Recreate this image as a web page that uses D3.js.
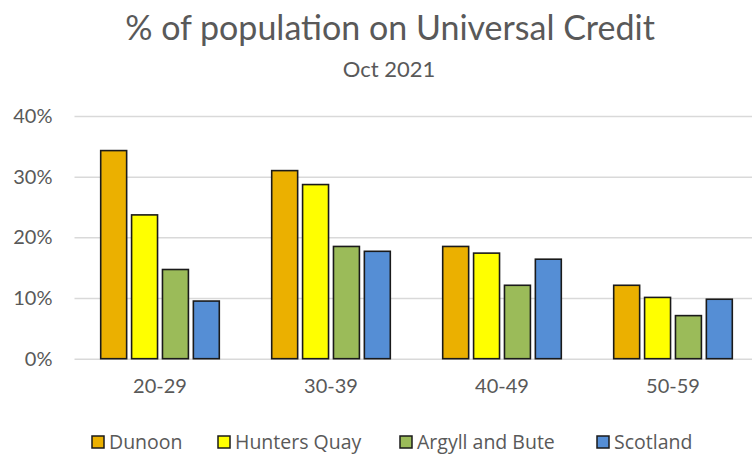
<!DOCTYPE html>
<html><head><meta charset="utf-8">
<script src="https://cdn.jsdelivr.net/npm/d3@7"></script>
<style>
html,body{margin:0;padding:0;background:#fff;}
svg{display:block;}
</style>
</head><body>
<svg id="chart" width="752" height="455"></svg>
<script>
const categories = ["20-29", "30-39", "40-49", "50-59"];
const seriesNames = ["Dunoon", "Hunters Quay", "Argyll and Bute", "Scotland"];
const dunoon = [0.343, 0.310, 0.185, 0.121];
const huntersQuay = [0.237, 0.287, 0.174, 0.101];
const argyllBute = [0.147, 0.185, 0.121, 0.071];
const scotland = [0.095, 0.177, 0.164, 0.098];
const yTicks = [0, 0.1, 0.2, 0.3, 0.4];
const colors = ["#EBB000", "#FFFF00", "#9BBB59", "#558ED5"];

(function () {
const seriesValues = [dunoon, huntersQuay, argyllBute, scotland];
const svg = d3.select("#chart");
const pLeft = 74.5, pRight = 758.5, pTop = 116, pBottom = 358.7;

const x = d3.scaleBand().domain(categories).range([pLeft, pRight]).paddingInner(0).paddingOuter(0);
const y = d3.scaleLinear().domain([0, 0.4]).range([pBottom, pTop]);
const groupW = 118.6;
const xs = d3.scaleBand().domain(seriesNames).range([0, groupW]).paddingInner(0.16).paddingOuter(0);

// Title
svg.append("text").attr("x", 390).attr("y", 40).attr("text-anchor", "middle")
  .attr("font-family", "Lato, sans-serif").attr("font-size", 34).attr("fill", "#595959")
  .text("% of population on Universal Credit");
svg.append("text").attr("x", 389).attr("y", 77).attr("text-anchor", "middle")
  .attr("font-family", "Lato, sans-serif").attr("font-size", 22).attr("fill", "#595959")
  .text("Oct 2021");

// Gridlines
const yAxis = d3.axisLeft(y).tickValues(yTicks).tickFormat(d3.format(".0%")).tickSize(-(pRight - pLeft)).tickPadding(22);
const gy = svg.append("g").attr("transform", `translate(${pLeft},0)`).call(yAxis);
gy.select(".domain").remove();
gy.selectAll(".tick line").attr("stroke", "#d9d9d9").attr("stroke-width", 1.5);
gy.selectAll(".tick text").attr("font-family", "Lato, sans-serif").attr("font-size", 20).attr("fill", "#595959");

// Bars
const groups = svg.append("g").selectAll("g").data(categories).join("g")
  .attr("transform", d => `translate(${x(d) + (x.bandwidth() - groupW) / 2},0)`);
groups.selectAll("rect").data((c, i) => seriesNames.map((s, j) => ({s, j, v: seriesValues[j][i]})))
  .join("rect")
  .attr("x", d => xs(d.s))
  .attr("width", xs.bandwidth())
  .attr("y", d => y(d.v))
  .attr("height", d => y(0) - y(d.v))
  .attr("fill", d => colors[d.j])
  .attr("stroke", "#1a1a1a").attr("stroke-width", 1.6);

// X axis labels
const xAxis = d3.axisBottom(x).tickSize(0).tickPadding(20);
const gx = svg.append("g").attr("transform", `translate(0,${pBottom})`).call(xAxis);
gx.select(".domain").remove();
gx.selectAll(".tick text").attr("font-family", "Lato, sans-serif").attr("font-size", 20).attr("fill", "#595959");

// Legend
const legendX = [92, 218, 400, 597];
const lg = svg.append("g").selectAll("g").data(seriesNames).join("g")
  .attr("transform", (d, i) => `translate(${legendX[i]},436)`);
lg.append("rect").attr("width", 12).attr("height", 12).attr("fill", (d, i) => colors[i])
  .attr("stroke", "#1a1a1a").attr("stroke-width", 1.5);
lg.append("text").attr("x", 17).attr("y", 12.5).attr("font-family", "'Open Sans', sans-serif")
  .attr("font-size", 19.5).attr("fill", "#595959").text(d => d);
})();
</script>
</body></html>
